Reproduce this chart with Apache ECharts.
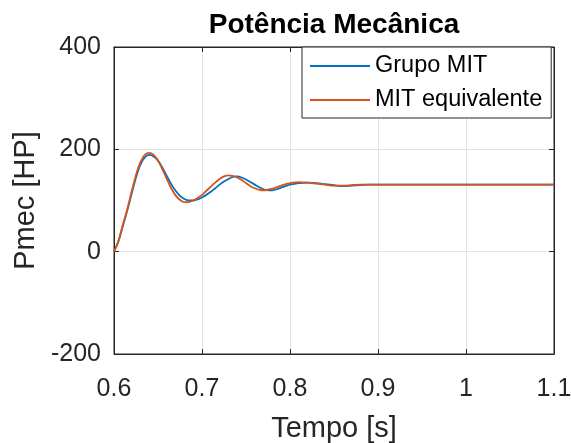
<!DOCTYPE html>
<html>
<head>
<meta charset="utf-8">
<script src="https://cdn.jsdelivr.net/npm/echarts@6/dist/echarts.min.js"></script>
<style>
html,body{margin:0;padding:0;background:#fff;}
#chart{width:571px;height:443px;}
</style>
</head>
<body>
<div id="chart"></div>
<script>
// ---- data ----
const times = [0.600,0.605,0.610,0.615,0.620,0.625,0.630,0.635,0.640,0.645,0.650,0.655,0.660,0.665,0.670,0.675,0.680,0.685,0.690,0.695,0.700,0.705,0.710,0.715,0.720,0.725,0.730,0.735,0.740,0.745,0.750,0.755,0.760,0.765,0.770,0.775,0.780,0.785,0.790,0.795,0.800,0.810,0.820,0.830,0.840,0.850,0.860,0.870,0.880,0.890,0.900,0.950,1.000,1.050,1.100];
const grupoMIT = [0,20,50,80,113,145,170,184,189,186,178,164,148,132,119,109,103,100,100,102,106,111,117,124,131,137,142,146,147,145,141,136,131,126,122,120,120,122,125,128,131,134,135,134,132,130,128,129,130,131,131,131,131,131,131];
const mitEquivalente = [0,21,52,83,117,150,175,189,193,189,178,161,142,124,110,101,97,97,100,105,111,119,127,135,142,147,149,148,145,140,134,128,124,121,120,121,123,126,129,132,134,136,135,133,131,129,129,130,131,131,131,131,131,131,131];
const xTicks = {min:0.6, max:1.1, step:0.1};
const yTicks = {min:-200, max:400, step:200};
const seriesNames = ['Grupo MIT','MIT equivalente'];
const titleText = 'Potência Mecânica';
const xLabel = 'Tempo [s]';
const yLabel = 'Pmec [HP]';

const pair = (vals) => times.map((t,i)=>[t, vals[i]]);
const font = 'Liberation Sans, Arial, Helvetica, sans-serif';
const axisColor = '#262626';
const gridColor = '#e3e3e3';

const chart = echarts.init(document.getElementById('chart'), null, {renderer:'canvas'});
const G = {left:114, top:47, width:440, height:307};
chart.setOption({
  animation:false,
  backgroundColor:'#ffffff',
  grid:{left:G.left, top:G.top, width:G.width, height:G.height, containLabel:false, outerBoundsMode:'none', show:true, borderColor:axisColor, borderWidth:1, backgroundColor:'#fff'},
  graphic:[{type:'text', x:G.left+G.width/2, y:25, style:{text:titleText, font:'bold 28px '+font, fill:'#000', textAlign:'center', textVerticalAlign:'middle'}}],
  legend:{
    orient:'vertical', left:302, top:47,
    data:seriesNames,
    icon:'rect', itemWidth:60, itemHeight:2, itemGap:10,
    padding:[7,9,6,8],
    borderColor:axisColor, borderWidth:1, backgroundColor:'#fff',
    textStyle:{fontFamily:font, fontSize:23.5, color:'#000', lineHeight:24, padding:[0,0,0,0]}
  },
  xAxis:[{
    type:'value', min:xTicks.min, max:xTicks.max, interval:xTicks.step,
    axisLine:{show:true, onZero:false, lineStyle:{color:axisColor, width:1}},
    axisTick:{show:true, inside:true, length:5, lineStyle:{color:axisColor}},
    axisLabel:{fontFamily:font, fontSize:25, color:axisColor, margin:23, formatter:v=>String(+(+v).toFixed(1))},
    splitLine:{show:true, lineStyle:{color:gridColor, width:1}},
    name:xLabel, nameLocation:'middle', nameGap:60,
    nameTextStyle:{fontFamily:font, fontSize:29, color:axisColor}
  },{
    type:'value', position:'top', min:xTicks.min, max:xTicks.max, interval:xTicks.step,
    axisLine:{show:true, onZero:false, lineStyle:{color:axisColor}},
    axisTick:{show:true, inside:true, length:5, lineStyle:{color:axisColor}},
    axisLabel:{show:false}, splitLine:{show:false}
  }],
  yAxis:[{
    type:'value', min:yTicks.min, max:yTicks.max, interval:yTicks.step,
    axisLine:{show:true, onZero:false, lineStyle:{color:axisColor, width:1}},
    axisTick:{show:true, inside:true, length:5, lineStyle:{color:axisColor}},
    axisLabel:{fontFamily:font, fontSize:25, color:axisColor, margin:13, padding:[6,0,0,0]},
    splitLine:{show:true, lineStyle:{color:gridColor, width:1}},
    name:yLabel, nameLocation:'middle', nameGap:74, nameRotate:90,
    nameTextStyle:{fontFamily:font, fontSize:29, color:axisColor}
  },{
    type:'value', position:'right', min:yTicks.min, max:yTicks.max, interval:yTicks.step,
    axisLine:{show:true, onZero:false, lineStyle:{color:axisColor}},
    axisTick:{show:true, inside:true, length:5, lineStyle:{color:axisColor}},
    axisLabel:{show:false}, splitLine:{show:false}
  }],
  series:[
    {name:seriesNames[0], type:'line', data:pair(grupoMIT), showSymbol:false, symbol:'none', smooth:0.3, color:'#0072BD', lineStyle:{width:1.8, color:'#0072BD'}, z:2},
    {name:seriesNames[1], type:'line', data:pair(mitEquivalente), showSymbol:false, symbol:'none', smooth:0.3, color:'#D95319', lineStyle:{width:1.8, color:'#D95319'}, z:3}
  ]
});
</script>
</body>
</html>
